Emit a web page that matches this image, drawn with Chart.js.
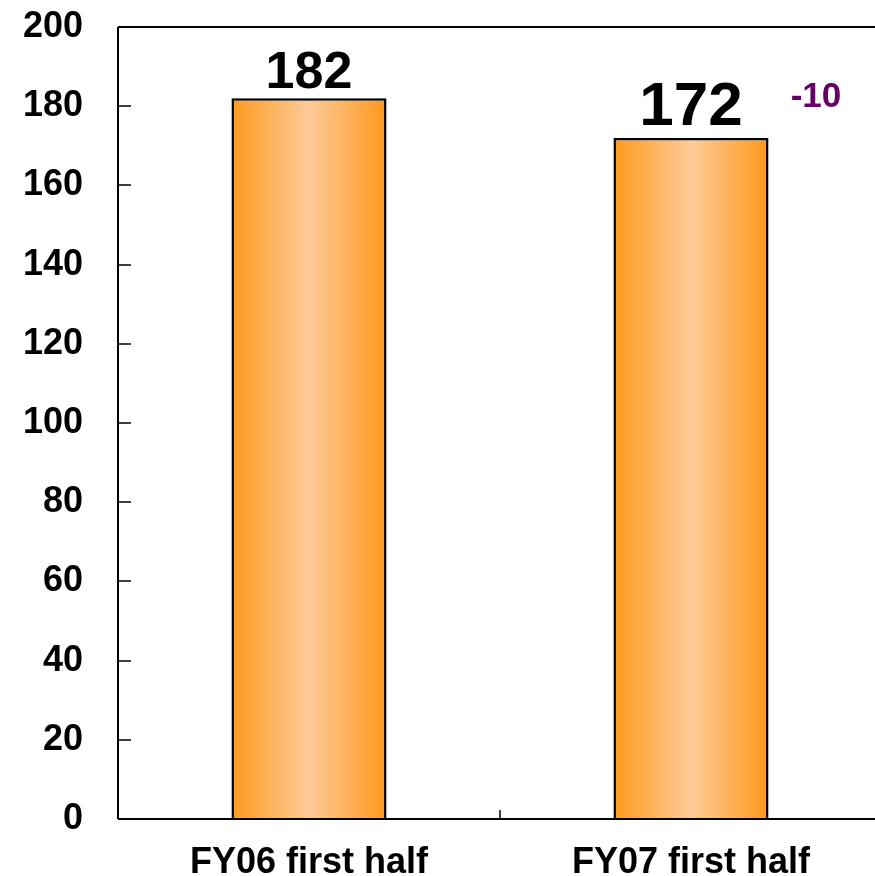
<!DOCTYPE html>
<html>
<head>
<meta charset="utf-8">
<script src="https://cdn.jsdelivr.net/npm/chart.js@4/dist/chart.umd.min.js"></script>
<style>
html,body{margin:0;padding:0;background:#fff;overflow:hidden;}
#wrap{width:882px;height:876px;}
</style>
</head>
<body>
<div id="wrap"><canvas id="c" width="882" height="876"></canvas></div>
<script>
const categories = ['FY06 first half', 'FY07 first half'];
const values = [182, 172];
const changeLabel = '-10';
const yMin = 0, yMax = 200, yStep = 20;

const FONT = '"Liberation Sans", Arial, sans-serif';
const BAR_PCT = 0.406;

function barGradient(ctx) {
  const chart = ctx.chart;
  const xs = chart.scales && chart.scales.x;
  if (!chart.chartArea || !xs || ctx.dataIndex === undefined) return '#FFA030';
  const cx = xs.getPixelForValue(ctx.dataIndex);
  const w = (xs.width / categories.length) * BAR_PCT;
  const g = chart.ctx.createLinearGradient(cx - w / 2, 0, cx + w / 2, 0);
  g.addColorStop(0, '#FF9A1E');
  g.addColorStop(0.5, '#FECB98');
  g.addColorStop(1, '#FF981C');
  return g;
}

const framePlugin = {
  id: 'frame',
  afterDatasetsDraw(chart) {
    const {ctx, chartArea: a, scales: {x, y}} = chart;
    ctx.save();
    ctx.strokeStyle = '#000';
    ctx.lineWidth = 2;
    ctx.beginPath();
    ctx.moveTo(a.left, a.top); ctx.lineTo(a.right, a.top);
    ctx.moveTo(a.left, a.top); ctx.lineTo(a.left, a.bottom);
    ctx.moveTo(a.left, a.bottom); ctx.lineTo(a.right, a.bottom);
    ctx.stroke();
    ctx.lineWidth = 1.5;
    ctx.beginPath();
    y.ticks.forEach(t => {
      const py = Math.round(y.getPixelForValue(t.value));
      ctx.moveTo(a.left, py); ctx.lineTo(a.left + 13, py);
    });
    for (let i = 1; i < categories.length; i++) {
      const px = Math.round((x.getPixelForValue(i - 1) + x.getPixelForValue(i)) / 2);
      ctx.moveTo(px, a.bottom); ctx.lineTo(px, a.bottom - 9);
    }
    ctx.stroke();

    const meta = chart.getDatasetMeta(0);
    const sizes = [52, 62];
    const gaps = [10, 13];
    ctx.fillStyle = '#000';
    ctx.textAlign = 'center';
    ctx.textBaseline = 'alphabetic';
    meta.data.forEach((bar, i) => {
      ctx.font = 'bold ' + sizes[i] + 'px ' + FONT;
      ctx.fillText(String(values[i]), bar.x, bar.y - gaps[i]);
    });
    const last = meta.data[meta.data.length - 1];
    ctx.font = 'bold 35px ' + FONT;
    ctx.fillStyle = '#660066';
    ctx.fillText(changeLabel, last.x + 125, last.y - 31);
    ctx.restore();
  }
};

new Chart(document.getElementById('c'), {
  type: 'bar',
  data: {
    labels: categories,
    datasets: [{
      data: values,
      backgroundColor: barGradient,
      borderColor: '#000',
      borderWidth: 2.5,
      borderSkipped: 'bottom',
      barPercentage: BAR_PCT,
      categoryPercentage: 1
    }]
  },
  options: {
    responsive: false,
    animation: false,
    layout: {padding: {left: 0, right: 0, top: 27, bottom: 0}},
    plugins: {legend: {display: false}, tooltip: {enabled: false}},
    scales: {
      x: {
        grid: {display: false, drawTicks: false},
        border: {display: false},
        ticks: {color: '#000', padding: 22, font: {family: FONT, size: 36, weight: 'bold'}},
        afterFit(s) { s.height = 57; s.paddingLeft = 0; s.paddingRight = 0; }
      },
      y: {
        min: yMin, max: yMax,
        grid: {display: false, drawTicks: false},
        border: {display: false},
        ticks: {stepSize: yStep, color: '#000', padding: 35, font: {family: FONT, size: 36, weight: 'bold'}},
        afterFit(s) { s.width = 118; s.paddingTop = 0; s.paddingBottom = 0; }
      }
    }
  },
  plugins: [framePlugin]
});
</script>
</body>
</html>
